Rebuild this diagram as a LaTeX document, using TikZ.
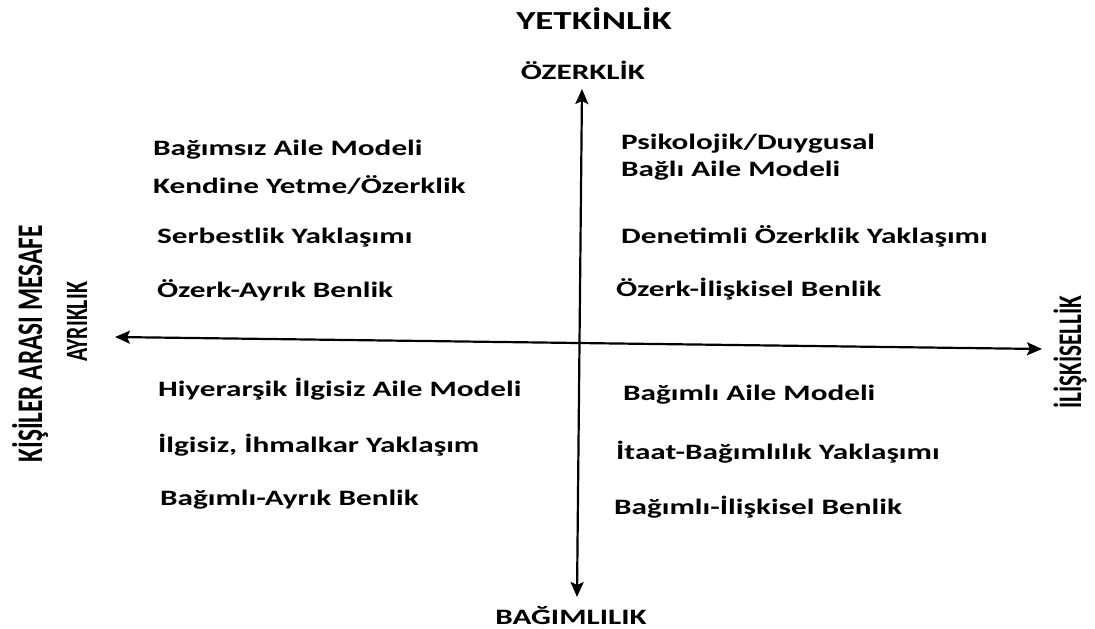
\documentclass[tikz,border=0pt]{standalone}
\usepackage{fontspec}
\setmainfont{Carlito}
\newfontfamily\widefont{Carlito}[FakeStretch=1.42]
\newfontfamily\tallfont{Carlito}[FakeStretch=0.704]
\usetikzlibrary{arrows.meta}

\begin{document}
\begin{tikzpicture}[x=1pt,y=-1pt,<->,>={Stealth[length=15pt,width=13pt,inset=3pt]},line width=2.2pt,
  quad text/.style={anchor=west,inner sep=0pt,font=\widefont\bfseries\fontsize{22}{24}\selectfont},
  pole text/.style={inner sep=0pt,font=\widefont\bfseries\fontsize{22}{24}\selectfont},
  side text/.style={inner sep=0pt,rotate=90,font=\tallfont\bfseries}]

  \useasboundingbox (0,0) rectangle (1095,629);

  % ends of the two axes
  \coordinate (left) at (115,337);
  \coordinate (right) at (1042,349);
  \coordinate (top) at (582,89);
  \coordinate (bottom) at (577,597);

  \draw (left) -- (right);
  \draw (top) -- (bottom);

  % poles of the axes
  \node[pole text,font=\widefont\bfseries\fontsize{26}{28}\selectfont] (yetkinlik) at (594,19) {YETKİNLİK};
  \node[pole text] (ozerklik) at (583,70) {ÖZERKLİK};
  \node[pole text] (bagimlilik) at (571,616) {BAĞIMLILIK};
  \node[side text,font=\tallfont\bfseries\fontsize{36}{38}\selectfont] (mesafe) at (30,344) {KİŞİLER ARASI MESAFE};
  \node[side text,font=\tallfont\bfseries\fontsize{31}{33}\selectfont] (ayriklik) at (77,322) {AYRIKLIK};
  \node[side text,font=\tallfont\bfseries\fontsize{33}{35}\selectfont] (iliskisellik) at (1070,352) {İLİŞKİSELLİK};

  % upper left
  \node[quad text] (bagimsiz) at (152,150) {Bağımsız Aile Modeli};
  \node[quad text] (kendine) at (152,185) {Kendine Yetme/Özerklik};
  \node[quad text] (serbestlik) at (156,238) {Serbestlik Yaklaşımı};
  \node[quad text] (ozerkayrik) at (156,290) {Özerk-Ayrık Benlik};

  % upper right
  \node[quad text] (psikolojik) at (620,144) {Psikolojik/Duygusal};
  \node[quad text] (bagli) at (620,171) {Bağlı Aile Modeli};
  \node[quad text] (denetimli) at (620,236) {Denetimli Özerklik Yaklaşımı};
  \node[quad text] (ozerkiliskisel) at (615,289) {Özerk-İlişkisel Benlik};

  % lower left
  \node[quad text] (hiyerarsik) at (157,389) {Hiyerarşik İlgisiz Aile Modeli};
  \node[quad text] (ilgisiz) at (157,445) {İlgisiz, İhmalkar Yaklaşım};
  \node[quad text] (bagimliayrik) at (159,500) {Bağımlı-Ayrık Benlik};

  % lower right
  \node[quad text] (bagimliaile) at (622,395) {Bağımlı Aile Modeli};
  \node[quad text] (itaat) at (615,452) {İtaat-Bağımlılık Yaklaşımı};
  \node[quad text] (bagimliiliskisel) at (613,507) {Bağımlı-İlişkisel Benlik};
\end{tikzpicture}
\end{document}
